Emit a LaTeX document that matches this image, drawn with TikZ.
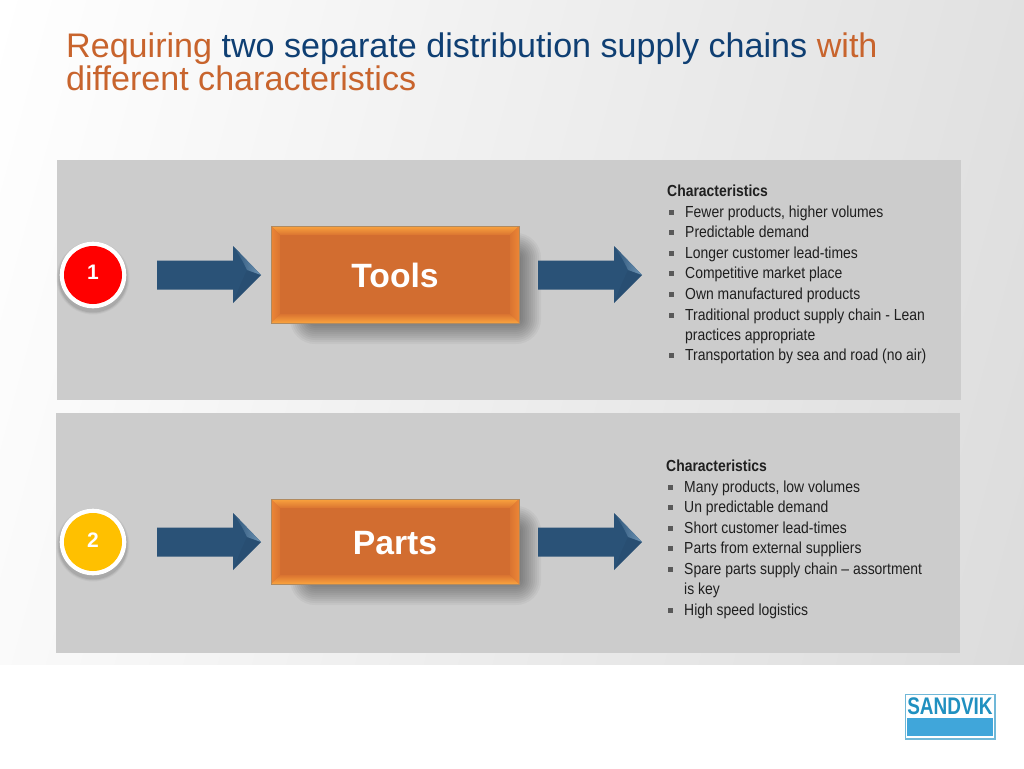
\documentclass[tikz,border=0pt]{standalone}
\usepackage{fontspec}
\setmainfont{Liberation Sans}
\newfontfamily\narrowfont[FakeStretch=0.871]{Liberation Sans}
\newfontfamily\logofont[FakeStretch=0.79]{Liberation Sans}
\usetikzlibrary{calc}
\definecolor{titleorange}{HTML}{C8642D}
\definecolor{titleblue}{HTML}{0F3F73}
\definecolor{panelgrey}{HTML}{CCCCCC}
\definecolor{arrowblue}{HTML}{2A5277}
\definecolor{arrowlight}{HTML}{6F95B5}
\definecolor{boxfill}{HTML}{D26D30}
\definecolor{bevbright}{HTML}{FAA33E}
\definecolor{bevmid}{HTML}{EC8636}
\definecolor{bevin}{HTML}{DA7431}
\definecolor{boxedge}{HTML}{B08A60}
\definecolor{logoblue}{HTML}{40A6DA}
\definecolor{logoedge}{HTML}{70B8D8}
\definecolor{logotext}{HTML}{2090C0}
\definecolor{bgmid}{HTML}{F8F8F8}
\definecolor{bgend}{HTML}{DCDCDC}
\definecolor{discyellow}{HTML}{FFC000}
\tikzset{
  x=1pt,y=-1pt,
  titletext/.style={anchor=base west,inner sep=0pt,font=\fontsize{34.1}{34.1}\selectfont},
  charline/.style={anchor=base west,inner sep=0pt,text=black!88,font=\narrowfont\fontsize{16}{16}\selectfont},
  charhead/.style={charline,font=\narrowfont\bfseries\fontsize{16}{16}\selectfont},
  bulletmark/.style={fill=black!65,minimum size=5pt,inner sep=0pt,draw=none},
  panel/.style={fill=panelgrey,draw=none},
  boxlabel/.style={inner sep=0pt,text=white,font=\bfseries\fontsize{33.7}{33.7}\selectfont},
  numlabel/.style={inner sep=0pt,text=white,font=\bfseries\fontsize{21}{21}\selectfont},
}
% #1 x, #2 y centre
\newcommand{\blockarrow}[2]{%
  \begin{scope}[shift={(#1,#2)}]
    \fill[arrowblue] (0,-14.5) -- (76,-14.5) -- (76,-29) -- (104,0) -- (76,28) -- (76,14.5) -- (0,14.5) -- cycle;
    \shade[left color=arrowblue,right color=arrowlight] (76,-29) -- (104,0) -- (90,-5) .. controls (86,-14) and (82,-20) .. (76,-29) -- cycle;
    \fill[black,opacity=.04] (90,-5) -- (104,0) -- (76,28) -- (84,8) -- cycle;
  \end{scope}}
% #1 left, #2 top, #3 right, #4 bottom
\newcommand{\bevelbox}[4]{%
  \foreach \g in {13,11,9,7,5,3,1,-1,-3,-5,-7,-9,-11}{
    \fill[black,opacity=.038,rounded corners={\g+12}] (#1+32-\g,#2+20-\g) rectangle (#3+9+\g,#4+8+\g);
  }
  \fill[boxfill] (#1,#2) rectangle (#3,#4);
  \shade[top color=bevbright,bottom color=bevin] (#1,#2) -- (#3,#2) -- (#3-9,#2+9) -- (#1+9,#2+9) -- cycle;
  \shade[left color=bevmid,right color=bevin] (#1,#2) -- (#1+9,#2+9) -- (#1+9,#4-9) -- (#1,#4) -- cycle;
  \shade[left color=bevin,right color=bevmid] (#3,#2) -- (#3-9,#2+9) -- (#3-9,#4-9) -- (#3,#4) -- cycle;
  \shade[top color=bevin,bottom color=bevbright] (#1,#4) -- (#1+9,#4-9) -- (#3-9,#4-9) -- (#3,#4) -- cycle;
  \draw[boxedge,line width=.7pt] (#1,#2) rectangle (#3,#4);}
\newcommand{\numdisc}[3]{%
  \foreach \g/\o in {7/.04,5/.06,3/.08}{\fill[black,opacity=\o] (#1,#2+3) circle (33+\g*.5);}
  \fill[white] (#1,#2) circle (33.3);
  \fill[#3] (#1,#2) circle (29);}
\begin{document}
\begin{tikzpicture}
\useasboundingbox (0,0) rectangle (1024,768);
\fill[white] (0,0) rectangle (1024,768);
\begin{scope}
  \clip (0,0) rectangle (1024,664);
  \shade[transform canvas={rotate=-15},left color=white,middle color=bgmid,right color=bgend] (0,-1000) rectangle (1161,1000);
\end{scope}
% title
\node[titletext,text=titleorange] (t1) at (66,57) {Requiring \textcolor{titleblue}{two separate distribution supply chains} with};
\node[titletext,text=titleorange] (t2) at (66,90.5) {different characteristics};
% panels
\fill[panel] (57,160) rectangle (961,400);
\fill[panel] (56,413) rectangle (960,653);
% row 1
\numdisc{93}{275}{red}
\node[numlabel] (n1) at (93,272) {1};
\blockarrow{157}{275}
\bevelbox{271}{226}{519}{323}
\node[boxlabel] (tools) at (395,275.3) {Tools};
\blockarrow{538}{275}
% row 2
\numdisc{93}{542}{discyellow}
\node[numlabel] (n2) at (93,540) {2};
\blockarrow{157}{542}
\bevelbox{271}{499}{519}{584}
\node[boxlabel] (parts) at (395,543) {Parts};
\blockarrow{538}{542}
% characteristics 1
\node[charhead] (h1) at (667,196) {Characteristics};
\foreach \n/\y/\txt in {a/217/{Fewer products, higher volumes},b/237/{Predictable demand},c/258/{Longer customer lead-times},d/278/{Competitive market place},e/299/{Own manufactured products},f/320/{Traditional product supply chain - Lean}}{
  \node[bulletmark] (b1\n) at (671,\y-5) {};
  \node[charline] (l1\n) at (685,\y) {\txt};
}
\node[charline] (l1g) at (685,340) {practices appropriate};
\node[bulletmark] (b1h) at (671,355) {};
\node[charline] (l1h) at (685,360) {Transportation by sea and road (no air)};
% characteristics 2
\node[charhead] (h2) at (666,471) {Characteristics};
\foreach \n/\y/\txt in {a/492/{Many products, low volumes},b/512/{Un predictable demand},c/533/{Short customer lead-times},d/553/{Parts from external suppliers},e/574/{Spare parts supply chain – assortment}}{
  \node[bulletmark] (b2\n) at (670,\y-5) {};
  \node[charline] (l2\n) at (684,\y) {\txt};
}
\node[charline] (l2f) at (684,594) {is key};
\node[bulletmark] (b2g) at (670,610) {};
\node[charline] (l2g) at (684,615) {High speed logistics};
% logo
\fill[white] (905,694) rectangle (995,739);
\fill[logoblue] (907,718) rectangle (993,736);
\draw[logoedge,line width=1.5pt] (905.5,694.5) rectangle (995,739);
\node[inner sep=0pt,text=logotext,font=\logofont\bfseries\fontsize{24}{24}\selectfont] (logo) at (950,706.5) {SANDVIK};
\end{tikzpicture}
\end{document}
